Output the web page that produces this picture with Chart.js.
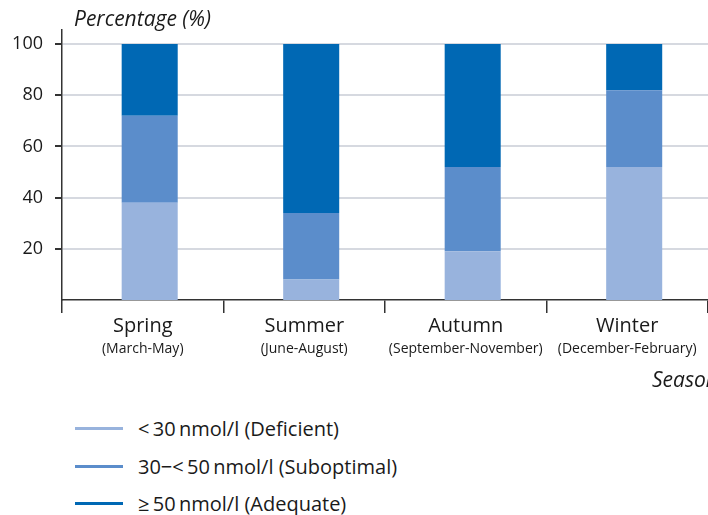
<!DOCTYPE html>
<html>
<head>
<meta charset="utf-8">
<script src="https://cdn.jsdelivr.net/npm/chart.js@4"></script>
<style>
  body { margin: 0; background: #fff; font-family: "Open Sans", sans-serif; }
  #wrap { position: relative; width: 708px; height: 515px; overflow: hidden; }
  #legend { position: absolute; left: 75px; top: 410px; }
  .item { display: flex; align-items: center; height: 37.5px; font-size: 20px; color: #1a1a1a; }
  .swatch { width: 48px; height: 3px; margin-right: 15px; }
</style>
</head>
<body>
<div id="wrap">
  <canvas id="chart" width="708" height="400"></canvas>
  <div id="legend"></div>
</div>
<script>
// Categories
const seasons = ['Spring', 'Summer', 'Autumn', 'Winter'];
const months = ['(March-May)', '(June-August)', '(September-November)', '(December-February)'];

// Series values (percent of people)
const deficient = [38, 8, 19, 52];
const suboptimal = [34, 26, 33, 30];
const adequate = [28, 66, 48, 18];

// Tick labels
const yTicks = [20, 40, 60, 80, 100];

const seriesNames = [
    '<\u200930\u2009nmol/l (Deficient)',
    '30\u2212<\u200950\u2009nmol/l (Suboptimal)',
    '\u2265\u200950\u2009nmol/l (Adequate)'
];
const colors = ['#98b3dd', '#5b8dcb', '#0068b4'];

const font = '"Open Sans", sans-serif';
const ink = '#1a1a1a';

// bars sit a little right of the category centre in the original
const barShift = 0.043;
const toPoints = arr => arr.map((y, i) => ({ x: i + 0.5 + barShift, y }));

// Draws the two-line category labels and the axis titles
const labelPlugin = {
    id: 'labels',
    afterDraw(chart) {
        const ctx = chart.ctx;
        const xs = chart.scales.x;
        ctx.save();
        ctx.fillStyle = ink;
        ctx.textAlign = 'center';
        ctx.textBaseline = 'middle';
        seasons.forEach((s, i) => {
            const px = xs.getPixelForValue(i + 0.5);
            ctx.font = '20px ' + font;
            ctx.fillText(s, px, 326);
            ctx.font = '14px ' + font;
            ctx.fillText(months[i], px, 349);
        });
        ctx.textAlign = 'left';
        ctx.font = 'italic 21px ' + font;
        ctx.fillText('Percentage (%)', 74, 20);
        ctx.fillText('Season', 652, 381);
        ctx.restore();
    }
};

const ctx = document.getElementById('chart').getContext('2d');
const chart = new Chart(ctx, {
    type: 'bar',
    data: {
        datasets: [
            { label: seriesNames[0], data: toPoints(deficient), backgroundColor: colors[0] },
            { label: seriesNames[1], data: toPoints(suboptimal), backgroundColor: colors[1] },
            { label: seriesNames[2], data: toPoints(adequate), backgroundColor: colors[2] }
        ]
    },
    options: {
        responsive: false,
        devicePixelRatio: 1,
        animation: false,
        datasets: {
            bar: { categoryPercentage: 1, barPercentage: 0.347, borderWidth: 0 }
        },
        layout: { padding: { top: 30, left: 0, right: 0, bottom: 0 } },
        plugins: {
            legend: { display: false },
            tooltip: { enabled: false }
        },
        scales: {
            x: {
                type: 'linear',
                stacked: true,
                offset: false,
                min: 0,
                max: seasons.length,
                afterFit: scale => { scale.height = 100; },
                afterBuildTicks: scale => {
                    scale.ticks = seasons.concat(['']).map((s, i) => ({ value: i }));
                },
                grid: {
                    offset: false,
                    drawOnChartArea: false,
                    tickLength: 13,
                    tickColor: '#333',
                    lineWidth: 1.5
                },
                border: { color: '#333', width: 1.5 },
                ticks: { display: false }
            },
            y: {
                stacked: true,
                min: 0,
                max: 105.5,
                afterFit: scale => { scale.width = 62; },
                afterBuildTicks: scale => {
                    scale.ticks = yTicks.map(v => ({ value: v }));
                },
                grid: {
                    color: '#d6d9e0',
                    lineWidth: 2,
                    tickLength: 7,
                    tickColor: '#333'
                },
                border: { color: '#333', width: 1.5 },
                ticks: {
                    padding: 12,
                    color: ink,
                    font: { family: font, size: 18 }
                }
            }
        }
    },
    plugins: [labelPlugin]
});

// HTML legend built from the same series
const legend = document.getElementById('legend');
seriesNames.forEach((name, i) => {
    const row = document.createElement('div');
    row.className = 'item';
    const sw = document.createElement('span');
    sw.className = 'swatch';
    sw.style.background = colors[i];
    const txt = document.createElement('span');
    txt.textContent = name;
    row.appendChild(sw);
    row.appendChild(txt);
    legend.appendChild(row);
});
</script>
</body>
</html>
